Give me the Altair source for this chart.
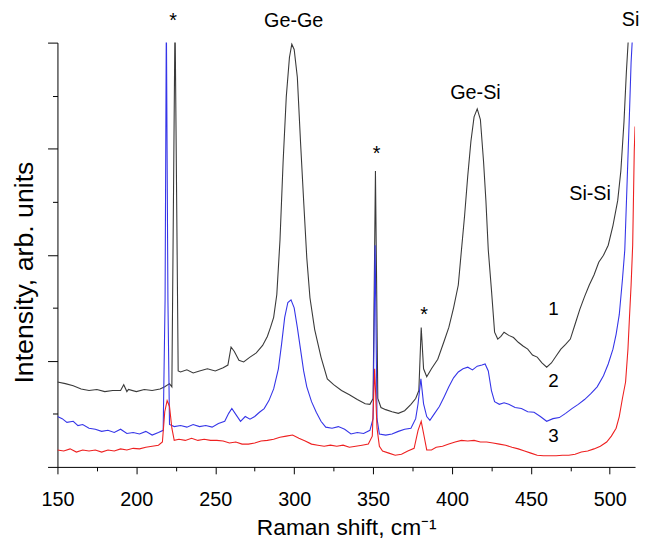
import altair as alt
import pandas as pd

FONT = "Liberation Sans"

# Raman shift (cm^-1) and intensity (arb. units) for each spectrum
x1 = [150,155,160,165,170,175,180,185,190,192,194,195,200,205,210,215,218,221,222.5,224.5,226.5,
      228,232,236,240,245,250,255,258,260,262,265,268,272,276,280,283,285,287,289,291,293,295,297,298.5,
      300,302,304,306,308,310,313,317,321,325,330,335,340,345,348,350,351.5,353,355,358,362,366,370,374,
      377,379,380.5,382,384,387,391,395,398,401,404,406,408,410,412,414,416,418,420,421.5,423,425,427,
      429,431,433,436,439,442,445,448,451,454,457,460,463,466,469,472,475,478,481,484,487,490,493,496,
      499,502,505,507,509,510.5,512,516]
y1 = [1.60,1.57,1.53,1.47,1.44,1.46,1.42,1.44,1.44,1.55,1.42,1.46,1.42,1.46,1.44,1.47,1.51,1.57,1.51,8.5,1.81,
      1.79,1.83,1.77,1.81,1.85,1.81,1.87,1.92,2.26,2.18,2.01,1.98,2.07,2.15,2.29,2.46,2.63,2.82,3.25,4.27,5.76,6.98,7.72,7.97,
      7.87,7.35,6.14,5.02,3.94,3.19,2.59,2.07,1.66,1.55,1.44,1.36,1.27,1.19,1.18,1.29,5.58,1.29,1.12,1.08,1.04,1.01,1.06,1.18,
      1.29,1.44,2.63,1.85,1.70,1.85,2.03,2.37,2.63,3.00,3.43,4.09,4.74,5.49,6.14,6.60,6.75,6.55,5.76,5.02,4.09,3.34,2.54,
      2.41,2.46,2.54,2.48,2.44,2.35,2.28,2.22,2.11,2.07,1.96,1.88,1.96,2.09,2.22,2.31,2.41,2.69,2.97,3.21,3.43,3.62,3.86,3.99,
      4.18,4.55,5.02,5.58,6.51,7.44,8.2,9.0]

x2 = [150,153,156,160,163,166,170,174,178,182,186,190,194,198,202,206,210,214,217,218.2,219,220,221,
      224,228,232,236,240,244,248,252,256,258.5,260.5,263,266,269,272,275,278,281,284,287,290,292,294,296,298,
      300,302,304,306,308,311,314,317,320,324,328,332,336,340,344,348,350,351.3,352.5,354,358,362,366,370,374,
      377,378.5,380.3,382,384,386,389,392,395,398,401,404,407,410,413,416,419,421,423,425,427,430,433,436,440,
      444,448,452,456,460,464,468,472,476,480,484,488,492,496,499,502,504,506,508,509.5,511,512.5,513.5,514.5,516]
y2 = [0.95,0.91,0.84,0.86,0.78,0.80,0.73,0.71,0.67,0.69,0.65,0.71,0.63,0.65,0.62,0.67,0.60,0.65,0.69,3.15,8.5,3.15,0.80,
      0.76,0.78,0.75,0.80,0.76,0.78,0.75,0.82,0.86,1.01,1.10,0.99,0.86,0.95,0.90,0.95,1.03,1.10,1.25,1.47,1.85,2.31,2.82,3.10,3.15,
      3.00,2.63,2.22,1.81,1.51,1.23,1.03,0.86,0.75,0.73,0.76,0.71,0.62,0.65,0.63,0.69,0.91,4.18,0.91,0.62,0.60,0.62,0.67,0.71,0.73,
      0.91,1.19,1.66,1.19,0.95,0.88,1.01,1.14,1.32,1.51,1.68,1.79,1.85,1.88,1.83,1.90,1.92,1.94,1.81,1.44,1.23,1.18,1.21,1.18,1.12,
      1.10,1.04,1.03,0.95,0.86,0.91,0.93,1.01,1.10,1.18,1.27,1.38,1.51,1.72,1.94,2.22,2.50,2.87,3.53,4.09,5.39,6.70,7.63,8.19,9.0]

x3 = [150,154,158,162,166,170,174,178,182,186,190,194,198,202,206,210,214,216.5,218,219.5,221,222.5,224,
      227,231,235,239,243,247,251,255,259,263,267,271,275,279,283,287,291,295,299,303,307,311,315,319,323,327,
      331,335,339,343,347,349.5,351,352.5,354,356,360,364,368,372,376,378.5,380.5,382,384,387,390,394,398,402,
      406,410,414,418,422,426,430,434,438,442,446,450,454,458,462,466,470,474,478,482,486,490,494,498,501,504,
      506,508,510,511.5,512.5,513.5,514.5,515.5,516]
y3 = [0.32,0.30,0.34,0.28,0.32,0.30,0.32,0.28,0.32,0.30,0.34,0.32,0.35,0.34,0.37,0.39,0.41,0.47,1.04,1.25,1.14,0.73,0.50,
      0.52,0.50,0.54,0.50,0.52,0.50,0.50,0.49,0.45,0.47,0.43,0.43,0.45,0.49,0.50,0.52,0.56,0.58,0.60,0.54,0.49,0.43,0.41,0.39,0.41,0.39,
      0.41,0.37,0.39,0.41,0.43,0.58,1.85,0.73,0.39,0.30,0.26,0.22,0.24,0.30,0.35,0.69,0.86,0.63,0.32,0.32,0.37,0.39,0.43,0.47,
      0.50,0.49,0.50,0.47,0.47,0.45,0.43,0.41,0.37,0.34,0.30,0.26,0.22,0.21,0.21,0.21,0.22,0.22,0.24,0.28,0.30,0.34,0.39,0.47,0.58,0.73,
      0.95,1.29,1.60,2.22,2.84,3.43,4.18,5.95,6.42]

ann_text = ["*", "Ge-Ge", "*", "Ge-Si", "*", "Si-Si", "Si", "1", "2", "3"]
ann_x = [223.3, 299.7, 352.3, 414.9, 382.3, 487.5, 513.2, 464.3, 464.3, 464.3]
ann_y = [8.41, 8.41, 5.90, 7.05, 2.87, 5.15, 8.43, 2.97, 1.62, 0.58]
ann_size = [20, 20, 20, 20, 20, 20, 20, 19, 19, 19]

x_major = [150, 200, 250, 300, 350, 400, 450, 500]
x_minor = [175, 225, 275, 325, 375, 425, 475]
y_major = [0, 2, 4, 6, 8]
y_minor = [1, 3, 5, 7]

df1 = pd.DataFrame({"x": x1, "y": y1})
df2 = pd.DataFrame({"x": x2, "y": y2})
df3 = pd.DataFrame({"x": x3, "y": y3})
ann = pd.DataFrame({"t": ann_text, "x": ann_x, "y": ann_y, "s": ann_size})

xscale = alt.Scale(domain=[150, 516], nice=False, zero=False)
yscale = alt.Scale(domain=[0, 8], nice=False, zero=False)

xaxis = alt.Axis(
    values=x_major, tickSize=7, labelFlush=False,
    grid=False, domainColor="black", tickColor="black", domainWidth=1, tickWidth=1,
    labelFont=FONT, labelFontSize=20, labelColor="black", labelPadding=16,
    title="Raman shift, cm⁻¹", titleFont=FONT, titleFontSize=23, titleFontWeight="normal",
    titleColor="black", titlePadding=7,
)
yaxis = alt.Axis(
    values=y_major, labels=False, tickSize=10,
    grid=False, domainColor="black", tickColor="black", domainWidth=1, tickWidth=1,
    title="Intensity, arb. units", titleFont=FONT, titleFontSize=27, titleFontWeight="normal",
    titleColor="black", titlePadding=9, titleY=232,
)
xaxis_minor = alt.Axis(
    orient="bottom", values=x_minor, tickSize=4, labels=False, domain=False,
    grid=False, tickColor="black", tickWidth=1, title=None,
)
yaxis_minor = alt.Axis(
    orient="left", values=y_minor, tickSize=5, labels=False, domain=False,
    grid=False, tickColor="black", tickWidth=1, title=None,
)

def line(df, color, xa, ya):
    return alt.Chart(df).mark_line(color=color, strokeWidth=1.1, clip=True).encode(
        x=alt.X("x:Q", scale=xscale, axis=xa),
        y=alt.Y("y:Q", scale=yscale, axis=ya),
    )

l1 = line(df1, "#3a3a3a", xaxis, yaxis)
l2 = line(df2, "#3535e8", None, None)
l3 = line(df3, "#ee2020", None, None)

labels = alt.Chart(ann).mark_text(font=FONT, color="black", baseline="middle", align="center").encode(
    x=alt.X("x:Q", scale=xscale, axis=xaxis_minor),
    y=alt.Y("y:Q", scale=yscale, axis=yaxis_minor),
    text="t:N",
    size=alt.Size("s:Q", scale=None, legend=None),
)

chart = alt.layer(l1, l2, l3, labels).resolve_scale(
    x="independent", y="independent"
).properties(
    width=584, height=429,
    autosize=alt.AutoSizeParams(type="none"),
    padding={"left": 50, "top": 32, "right": 4, "bottom": 80},
).configure_view(stroke=None)

chart.save("out.html", embed_options={"renderer": "svg", "actions": False})
